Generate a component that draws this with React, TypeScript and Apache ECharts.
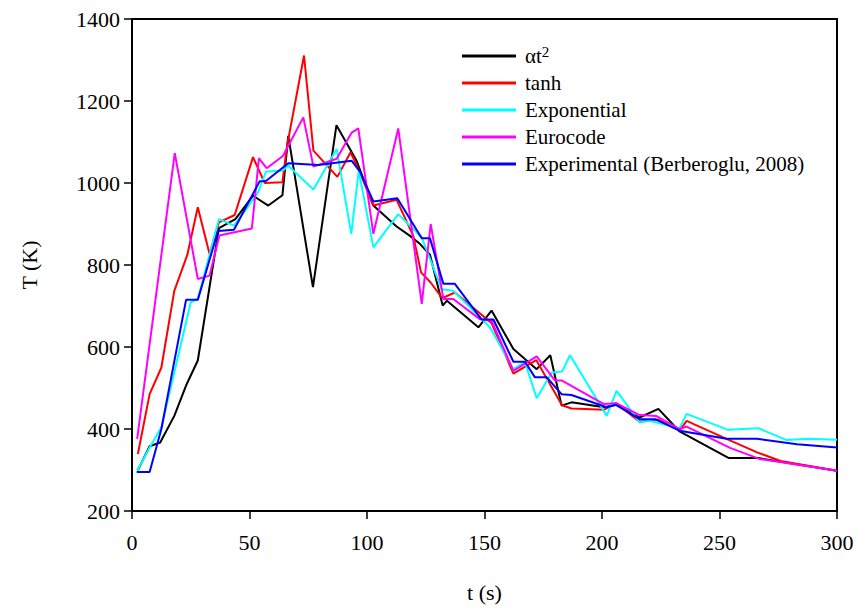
import React, { useEffect, useRef } from "react";
import * as echarts from "echarts";

const seriesNames = ["αt2", "tanh", "Exponential", "Eurocode", "Experimental (Berberoglu, 2008)"];
const seriesColors = ["#000000", "#ff0000", "#00ffff", "#ff00ff", "#0000ff"];

const alphaT2: [number, number][] = [
  [2.5, 300], [7.5, 358], [12, 367], [18, 432], [23, 506], [28, 567], [37, 890], [44, 912],
  [51.5, 969], [58, 945], [64, 970], [66.5, 1115], [77, 746], [87, 1141], [95.5, 1055],
  [102.7, 945], [112.6, 894], [118.3, 871], [122.6, 851], [126.8, 825], [132.2, 701], [134, 713],
  [147.4, 648], [153, 689], [162.3, 595], [172.2, 546], [178, 580], [182.8, 457], [187, 465],
  [201, 453], [206, 459], [216, 428], [224, 449], [233, 394], [254, 329], [266.5, 329], [300, 298],
];

const tanhData: [number, number][] = [
  [2.5, 339], [7.5, 485], [12.5, 550], [18, 737], [23.5, 824], [28, 941], [33, 827], [37, 904],
  [43.7, 922], [51.5, 1063], [56.5, 1000], [64, 1002], [66, 1091], [73.2, 1311], [77.2, 1079],
  [87.4, 1015], [93, 1075], [97, 1026], [102.7, 945], [112.6, 959], [119.7, 871], [123, 782],
  [127, 758], [132, 719], [137.4, 733], [147.5, 685], [153, 658], [162.3, 535], [172, 568],
  [183, 458], [187, 450], [201, 447], [206, 463], [216, 418], [224, 423], [233, 396], [236, 420],
  [253, 376], [266, 343], [276, 322], [300, 298],
];

const exponentialData: [number, number][] = [
  [2.2, 298], [7.5, 355], [12.5, 404], [25, 709], [28, 717], [37, 912], [43.4, 896], [53.5, 975],
  [57, 1028], [64, 1030], [66.5, 1042], [77.2, 984], [87.1, 1083], [93.3, 876], [96.5, 1030],
  [102.7, 843], [113.3, 924], [121.1, 880], [123.3, 867], [131.8, 741], [136.7, 737], [152.3, 648],
  [162.3, 546], [167.2, 563], [172.2, 475], [178.6, 538], [183, 540], [186.4, 580], [202, 432],
  [206.2, 493], [216, 416], [220.4, 420], [233, 402], [236, 437], [253.7, 398], [266.5, 402],
  [278.6, 373], [287.8, 376], [300, 374],
];

const eurocodeData: [number, number][] = [
  [2.2, 376], [18.2, 1073], [28, 766], [33, 774], [37.2, 872], [51, 889], [54, 1060], [57.3, 1036],
  [64.2, 1066], [72.9, 1160], [77.2, 1040], [87.1, 1059], [93.5, 1123], [96.3, 1133], [102.7, 876],
  [113.3, 1133], [123.3, 705], [127.1, 900], [132.5, 717], [136.7, 717], [148, 668], [153, 664],
  [162.3, 542], [172.2, 577], [180, 518], [183, 518], [200.6, 461], [206, 463], [216, 434],
  [223, 432], [233, 400], [236, 406], [254.5, 354], [267, 327], [300, 298],
];

const experimentalData: [number, number][] = [
  [2, 295], [7.5, 295], [12.5, 400], [23, 715], [28, 715], [36.6, 883], [43.4, 886], [54.3, 1004],
  [57, 1005], [66.5, 1048], [79.3, 1044], [93.5, 1054], [97, 1028], [102.7, 955], [112.9, 963],
  [123.3, 865], [126.8, 865], [132.5, 754], [137.4, 754], [148.8, 667], [153.8, 667], [162.3, 564],
  [167.2, 564], [171.5, 526], [176.5, 526], [182.8, 485], [187, 483], [202, 453], [206, 459],
  [216, 424], [222.6, 424], [233, 396], [253, 376], [266, 376], [283, 363], [300, 355],
];

const allData = [alphaT2, tanhData, exponentialData, eurocodeData, experimentalData];

const FONT = "Liberation Serif";

export default function App() {
  const ref = useRef<HTMLDivElement>(null);
  useEffect(() => {
    if (!ref.current) return;
    const chart = echarts.init(ref.current, undefined, { renderer: "svg" });
    chart.setOption({
      animation: false,
      backgroundColor: "#ffffff",
      textStyle: { fontFamily: FONT },
      grid: {
        left: 132,
        right: 22,
        top: 19,
        bottom: 96,
        show: true,
        borderColor: "#000",
        borderWidth: 2,
        backgroundColor: "transparent",
      },
      legend: {
        orient: "vertical",
        left: 457,
        top: 39,
        icon: "rect",
        itemWidth: 54,
        itemHeight: 3,
        itemGap: 6,
        data: seriesNames,
        formatter: (name: string) =>
          name === "αt2" ? "{b|αt}{s|2}" : "{b|" + name + "}",
        textStyle: {
          fontFamily: FONT,
          fontSize: 21,
          color: "#000",
          padding: [0, 0, 0, 4],
          rich: {
            b: { fontFamily: FONT, fontSize: 21, color: "#000", lineHeight: 21 },
            s: { fontFamily: FONT, fontSize: 15, color: "#000", padding: [0, 0, 9, 0] },
          },
        },
      },
      xAxis: {
        type: "value",
        min: 0,
        max: 300,
        interval: 50,
        name: "t (s)",
        nameLocation: "middle",
        nameGap: 70,
        nameTextStyle: { fontFamily: FONT, fontSize: 22, color: "#000" },
        axisLine: { show: true, lineStyle: { color: "#000", width: 2 } },
        axisTick: { show: true, inside: false, length: 8, lineStyle: { color: "#000", width: 1.5 } },
        axisLabel: {
          fontFamily: FONT,
          fontSize: 22,
          color: "#000",
          margin: 20,
          formatter: (v: number) => String(v),
        },
        splitLine: { show: false },
      },
      yAxis: {
        type: "value",
        min: 200,
        max: 1400,
        interval: 200,
        name: "T (K)",
        nameLocation: "middle",
        nameGap: 92,
        nameRotate: 90,
        nameTextStyle: { fontFamily: FONT, fontSize: 22, color: "#000" },
        axisLine: { show: true, lineStyle: { color: "#000", width: 2 } },
        axisTick: { show: true, inside: false, length: 8, lineStyle: { color: "#000", width: 1.5 } },
        axisLabel: {
          fontFamily: FONT,
          fontSize: 22,
          color: "#000",
          margin: 12,
          formatter: (v: number) => String(v),
        },
        splitLine: { show: false },
      },
      series: seriesNames.map((name, i) => ({
        name,
        type: "line",
        data: allData[i],
        symbol: "none",
        showSymbol: false,
        color: seriesColors[i],
        lineStyle: { color: seriesColors[i], width: 2 },
        z: 2 + i,
      })),
    });
    return () => chart.dispose();
  }, []);
  return (
    <div
      ref={ref}
      style={{ position: "absolute", left: 0, top: 0, width: 859, height: 608 }}
    />
  );
}
